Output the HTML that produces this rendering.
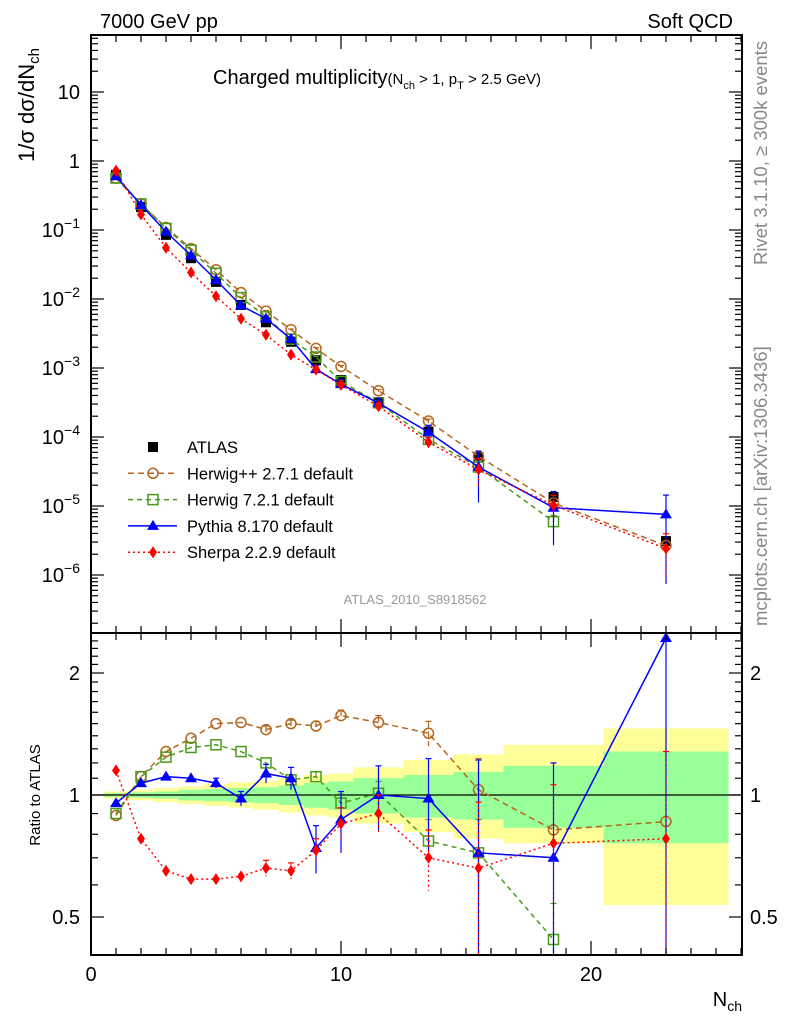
<!DOCTYPE html>
<html><head><meta charset="utf-8"><style>
html,body{margin:0;padding:0;background:#fff;width:786px;height:1024px;overflow:hidden;}
svg{display:block;font-family:"Liberation Sans",sans-serif;}
</style></head><body>
<svg id="chart" width="786" height="1024" viewBox="0 0 786 1024">
<text x="100" y="28" font-size="20">7000 GeV pp</text>
<text x="733" y="28" font-size="20" text-anchor="end">Soft QCD</text>
<text x="213" y="84" font-size="20">Charged multiplicity<tspan font-size="15">(N</tspan><tspan font-size="11" dy="5">ch</tspan><tspan font-size="15" dy="-5"> &gt; 1, p</tspan><tspan font-size="11" dy="5">T</tspan><tspan font-size="15" dy="-5"> &gt; 2.5 GeV)</tspan></text>
<text transform="translate(34,162) rotate(-90)" font-size="22">1/σ dσ/dN<tspan font-size="15" dy="5">ch</tspan></text>
<text transform="translate(40,795) rotate(-90)" font-size="15" text-anchor="middle">Ratio to ATLAS</text>
<text transform="translate(767,265) rotate(-90)" font-size="18.5" fill="#888">Rivet 3.1.10, ≥ 300k events</text>
<text transform="translate(767,626) rotate(-90)" font-size="18.5" fill="#888">mcplots.cern.ch [arXiv:1306.3436]</text>
<text x="415" y="604" font-size="13" fill="#999" text-anchor="middle">ATLAS_2010_S8918562</text>
<text x="742" y="1006" font-size="20" text-anchor="end">N<tspan font-size="14" dy="5">ch</tspan></text>
<g id="plot"></g>
</svg>
<script>
const xs=[1,2,3,4,5,6,7,8,9,10,11.5,13.5,15.5,18.5,23];
const binEdges=[0.5,1.5,2.5,3.5,4.5,5.5,6.5,7.5,8.5,9.5,10.5,12.5,14.5,16.5,20.5,25.5];
const atlas=[0.63,0.215,0.085,0.039,0.0177,0.0082,0.0046,0.0024,0.0013,6.7e-4,3.1e-4,1.2e-4,5.1e-5,1.35e-5,3.1e-6];
const statUp=[1.01,1.015,1.02,1.03,1.035,1.04,1.045,1.055,1.07,1.08,1.1,1.12,1.14,1.18,1.28];
const statDn=[0.99,0.985,0.98,0.97,0.965,0.96,0.955,0.945,0.93,0.92,0.9,0.88,0.87,0.83,0.76];
const totUp=[1.02,1.03,1.04,1.05,1.065,1.075,1.085,1.1,1.12,1.13,1.17,1.22,1.26,1.33,1.46];
const totDn=[0.98,0.97,0.96,0.95,0.94,0.93,0.92,0.905,0.89,0.88,0.85,0.81,0.78,0.76,0.535];
const herwigpp=[0.89,1.11,1.28,1.38,1.50,1.51,1.45,1.50,1.48,1.57,1.51,1.42,1.03,0.82,0.86];
const herwigppErr=[0.02,0.02,0.02,0.02,0.02,0.02,0.03,0.03,0.04,0.05,0.06,0.1,0.2,0,0];
const herwig7=[0.90,1.11,1.24,1.31,1.33,1.28,1.20,1.09,1.11,0.955,1.01,0.77,0.72,0.44,null];
const herwig7Err=[0.01,0.01,0.01,0.01,0.01,0.01,0.02,0.02,0.03,0.05,0.07,0.1,0.15,0.1,0];
const pythia=[0.955,1.07,1.11,1.10,1.07,0.98,1.13,1.10,0.74,0.87,1.0,0.98,0.72,0.70,2.44];
const pythiaErr=[0.01,0.01,0.01,0.01,0.03,0.04,0.06,0.07,0.1,0.15,0.18,0.25,0.5,0.5,2.2];
const sherpa=[1.15,0.78,0.65,0.62,0.62,0.63,0.66,0.65,0.73,0.85,0.90,0.70,0.66,0.76,0.78];
const sherpaErr=[0.01,0.01,0.01,0.01,0.01,0.02,0.03,0.03,0.05,0.08,0.1,0.12,0.3,0.3,0.5];
const yTickExp=[1,0,-1,-2,-3,-4,-5,-6];
const xTicks=[0,10,20];
const rTicks=[0.5,1,2];

const NS='http://www.w3.org/2000/svg';
const g=document.getElementById('plot');
const L=91,R=742,T=35,MB=633,RB=955;
const X=v=>L+v*25;
const Y=v=>161-69*Math.log10(v);
const RY=v=>795-122*Math.log2(v);
function el(tag,a,parent){const e=document.createElementNS(NS,tag);for(const k in a)e.setAttribute(k,a[k]);(parent||g).appendChild(e);return e;}
function txt(x,y,s,a){const e=el('text',Object.assign({x:x,y:y,'font-size':20},a||{}));e.textContent=s;return e;}
const colors={hpp:'#b5651d',h7:'#4a9a1a',py:'#0000ff',sh:'#ff0000'};
const dashes={hpp:'6,4',h7:'5,4',py:'none',sh:'2,3'};

const bands=el('g',{});


binEdges.slice(0,-1).forEach((e0,i)=>{
  const e1=binEdges[i+1];
  const y1=el('rect',{x:X(e0),y:RY(totUp[i]),width:X(e1)-X(e0),height:RY(totDn[i])-RY(totUp[i]),fill:'#ffff99'},bands);
  
  
  const g1=el('rect',{x:X(e0),y:RY(statUp[i]),width:X(e1)-X(e0),height:RY(statDn[i])-RY(statUp[i]),fill:'#99ff99'},bands);
  
  
});
el('line',{x1:L,x2:R,y1:RY(1),y2:RY(1),stroke:'#000','stroke-width':1.3});

function marker(kind,cx,cy,parent){
  let m;
  if(kind==='hpp')m=el('circle',{cx:cx,cy:cy,r:5,fill:'none',stroke:colors.hpp,'stroke-width':1.5},parent);
  else if(kind==='h7')m=el('rect',{x:cx-5,y:cy-5,width:10,height:10,fill:'none',stroke:colors.h7,'stroke-width':1.5},parent);
  else if(kind==='py')m=el('path',{d:`M${cx},${cy-6}L${cx+6},${cy+4}L${cx-6},${cy+4}Z`,fill:colors.py},parent);
  else if(kind==='sh')m=el('path',{d:`M${cx},${cy-6}L${cx+4},${cy}L${cx},${cy+6}L${cx-4},${cy}Z`,fill:colors.sh},parent);
  else m=el('rect',{x:cx-5,y:cy-5,width:10,height:10,fill:'#000'},parent);
  return m;
}
const series=[['hpp',herwigpp,herwigppErr,'herwigpp'],['h7',herwig7,herwig7Err,'herwig7'],['py',pythia,pythiaErr,'pythia'],['sh',sherpa,sherpaErr,'sherpa']];

const defs=el('defs',{});
const c1=el('clipPath',{id:'cm'},defs);el('rect',{x:L,y:T,width:R-L,height:MB-T},c1);
const c2=el('clipPath',{id:'cr'},defs);el('rect',{x:L,y:MB,width:R-L,height:RB-MB},c2);

const ga=el('g',{'clip-path':'url(#cm)'});


xs.forEach((x,i)=>{const m=marker('atlas',X(x),Y(atlas[i]),ga);});

series.forEach(([k,r,err,name])=>{
  ['main','ratio'].forEach(panel=>{
    const grp=el('g',{'clip-path':panel==='main'?'url(#cm)':'url(#cr)'});
    
    
    const yf=panel==='main'?(i=>Y(atlas[i]*r[i])):(i=>RY(r[i]));
    const yv=panel==='main'?(i,f)=>Y(atlas[i]*f):(i,f)=>RY(f);
    let pts=[];
    xs.forEach((x,i)=>{if(r[i]!=null)pts.push(X(x)+','+yf(i));});
    el('polyline',{points:pts.join(' '),fill:'none',stroke:colors[k],'stroke-width':1.5,'stroke-dasharray':dashes[k]},grp);
    xs.forEach((x,i)=>{
      if(r[i]==null)return;
      const e=err[i];
      if(e>0.02){const lo=Math.max(r[i]-e,0.01);
        el('line',{x1:X(x),x2:X(x),y1:yv(i,r[i]+e),y2:yv(i,lo),stroke:colors[k],'stroke-width':1.2,'stroke-dasharray':dashes[k]},grp);
        el('line',{x1:X(x)-3,x2:X(x)+3,y1:yv(i,r[i]+e),y2:yv(i,r[i]+e),stroke:colors[k],'stroke-width':1.2},grp);}
      const m=marker(k,X(x),yf(i),grp);
      
      
    });
  });
});

el('rect',{x:L,y:T,width:R-L,height:MB-T,fill:'none',stroke:'#000','stroke-width':2});
el('rect',{x:L,y:MB,width:R-L,height:RB-MB,fill:'none',stroke:'#000','stroke-width':2});

for(let v=0;v<=26;v++){
  const len=v%10===0?14:7;
  [[T,1],[MB,-1],[MB,1],[RB,-1]].forEach(([y0,d])=>el('line',{x1:X(v),x2:X(v),y1:y0,y2:y0+d*len,stroke:'#000','stroke-width':1.2}));
}
xTicks.forEach(v=>{const t=txt(X(v),981,String(v),{'text-anchor':'middle'});});

for(let e=-7;e<=1;e++){
  for(let m=1;m<10;m++){
    const y=Y(m*Math.pow(10,e));
    if(y<T||y>MB)continue;
    const len=m===1?13:7;
    el('line',{x1:L,x2:L+len,y1:y,y2:y,stroke:'#000','stroke-width':1.2});
    el('line',{x1:R,x2:R-len,y1:y,y2:y,stroke:'#000','stroke-width':1.2});
  }
}
yTickExp.forEach(e=>{
  let t;
  if(e===1)t=txt(80,Y(10)+7,'10',{'text-anchor':'end'});
  else if(e===0)t=txt(80,Y(1)+7,'1',{'text-anchor':'end'});
  else{t=el('text',{x:80,y:Y(Math.pow(10,e))+7,'font-size':20,'text-anchor':'end'});t.innerHTML='10<tspan font-size="14" dy="-9">−'+(-e)+'</tspan>';}
  
  
});

for(let v=0.4;v<=2.5;v+=0.1){
  const y=RY(v);if(y<MB||y>RB)continue;
  const major=[0.5,1,2].some(m=>Math.abs(m-v)<1e-6);
  const len=major?13:7;
  el('line',{x1:L,x2:L+len,y1:y,y2:y,stroke:'#000','stroke-width':1.2});
  el('line',{x1:R,x2:R-len,y1:y,y2:y,stroke:'#000','stroke-width':1.2});
}
rTicks.forEach(v=>{
  const a=txt(80,RY(v)+7,String(v),{'text-anchor':'end'});
  
  const b=txt(750,RY(v)+7,String(v),{});
  
});

const leg=el('g',{});


const legItems=[['atlas','ATLAS'],['hpp','Herwig++ 2.7.1 default'],['h7','Herwig 7.2.1 default'],['py','Pythia 8.170 default'],['sh','Sherpa 2.2.9 default']];
legItems.forEach(([k,label],i)=>{
  const y=447+26.3*i;
  const ent=el('g',{},leg);
  
  
  if(k!=='atlas')el('line',{x1:128,x2:177,y1:y,y2:y,stroke:colors[k],'stroke-width':1.5,'stroke-dasharray':dashes[k]},ent);
  marker(k,153,y,ent);
  const t=el('text',{x:187,y:y+6,'font-size':16.5},ent);t.textContent=label;
});
</script>
</body></html>
